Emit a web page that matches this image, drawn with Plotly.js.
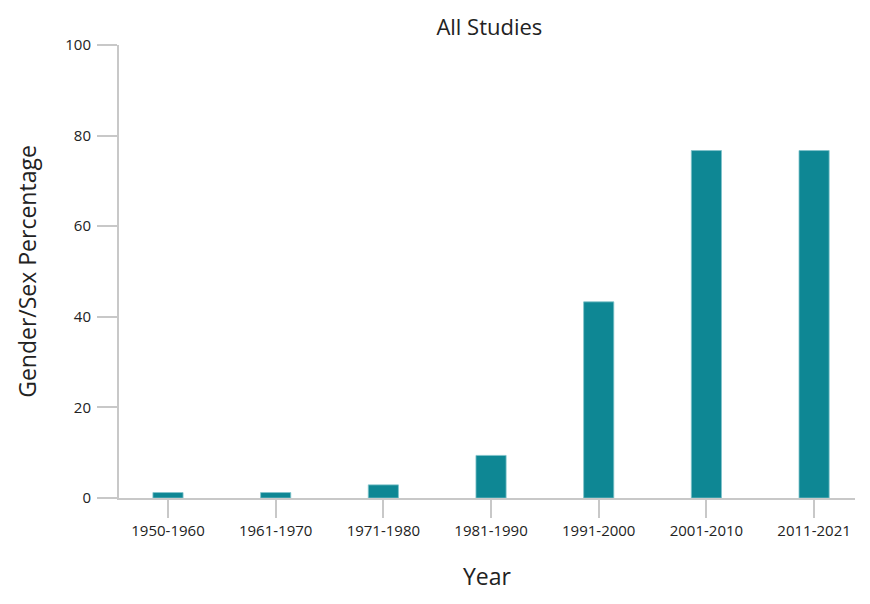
<!DOCTYPE html>
<html>
<head>
<meta charset="utf-8">
<script src="https://cdn.plot.ly/plotly-3.0.1.min.js"></script>
<style>
  html, body { margin: 0; padding: 0; background: #fff; }
  #chart { width: 870px; height: 604px; }
</style>
</head>
<body>
<div id="chart"></div>
<script>
// decades and share of studies reporting gender/sex
var decades = ["1950-1960", "1961-1970", "1971-1980", "1981-1990", "1991-2000", "2001-2010", "2011-2021"];
var percents = [1.2, 1.2, 2.9, 9.4, 43.3, 76.7, 76.7];
var yTicks = [0, 20, 40, 60, 80, 100];

var fontFam = "Open Sans, Lato, sans-serif";
var axisGrey = "#c8c8c8";

var bars = {
  type: "bar",
  x: decades,
  y: percents,
  width: 0.28,
  marker: { color: "#0e8794", line: { color: "#7fc3ca", width: 0.8 } },
  hoverinfo: "x+y"
};

var layout = {
  width: 870,
  height: 604,
  margin: { l: 119, r: 15, t: 45, b: 106 },
  paper_bgcolor: "#fff",
  plot_bgcolor: "#fff",
  font: { family: fontFam, color: "#222", size: 15 },
  showlegend: false,
  title: { text: "All Studies", x: 0.5625, xanchor: "center", y: 0.955, yanchor: "middle", font: { size: 22, color: "#222" } },
  xaxis: {
    type: "category",
    range: [-0.455, 6.38],
    showgrid: false,
    zeroline: false,
    showline: true,
    linecolor: axisGrey,
    linewidth: 2,
    ticks: "outside",
    ticklen: 18,
    tickwidth: 2,
    tickcolor: axisGrey,
    tickfont: { size: 15, color: "#222" },
    title: { text: "Year", font: { size: 23, color: "#222" }, standoff: 30 }
  },
  yaxis: {
    range: [0, 100],
    tickvals: yTicks,
    showgrid: false,
    zeroline: false,
    showline: true,
    linecolor: axisGrey,
    linewidth: 2,
    ticks: "outside",
    ticklen: 20,
    tickwidth: 2,
    tickcolor: axisGrey,
    ticklabelstandoff: 3,
    tickfont: { size: 15, color: "#222" },
    title: { text: "Gender/Sex Percentage", font: { size: 23, color: "#222" }, standoff: 22 }
  }
};

Plotly.newPlot("chart", [bars], layout, { displayModeBar: false, staticPlot: true });
</script>
</body>
</html>
